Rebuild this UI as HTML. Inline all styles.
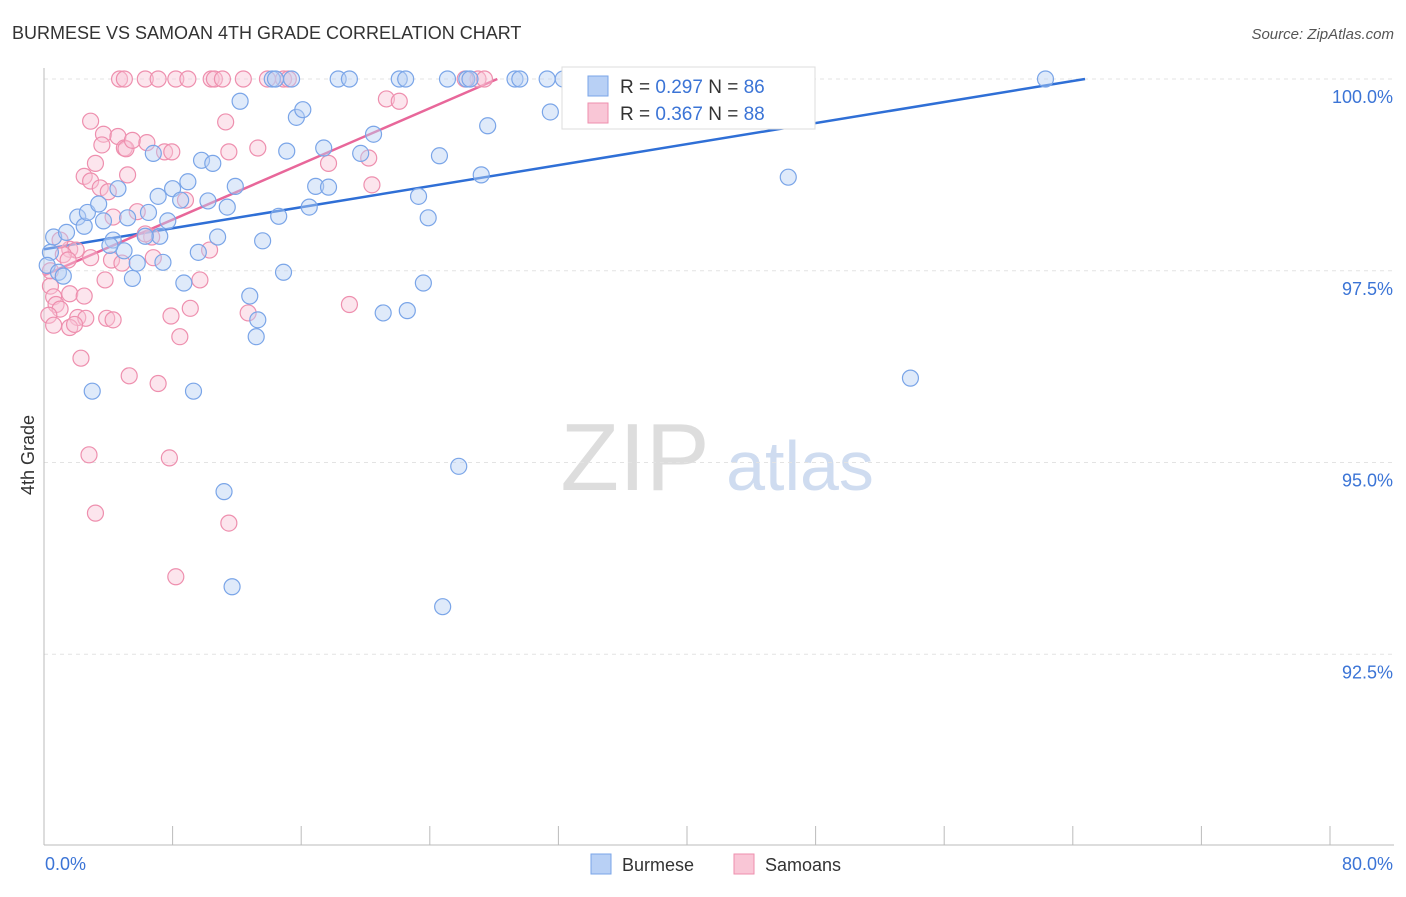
<!DOCTYPE html>
<html><head><meta charset="utf-8"><style>
body{margin:0;background:#fff;font-family:"Liberation Sans",sans-serif}
svg text{font-family:"Liberation Sans",sans-serif}
</style></head><body>
<svg id="chart" width="1406" height="892">
<text x="12" y="39" font-size="18" fill="#333">BURMESE VS SAMOAN 4TH GRADE CORRELATION CHART</text>
<text x="1394" y="39" font-size="15" fill="#555" font-style="italic" text-anchor="end">Source: ZipAtlas.com</text>
<g>
<text x="635" y="490" font-size="96" fill="#ddd" text-anchor="middle" font-family="Liberation Serif">ZIP</text>
<text x="800" y="490" font-size="70" fill="#cfdcf0" text-anchor="middle">atlas</text></g>
<g id="grid"></g><g id="axes"></g><g id="lines"></g><g id="pts"></g>
<text transform="translate(34,455) rotate(-90)" font-size="18" fill="#333" text-anchor="middle">4th Grade</text>
<g>
<rect x="562" y="67" width="253" height="62" fill="#fff" stroke="#ddd"/>
<rect x="588" y="76" width="20" height="20" fill="#b8d0f5" stroke="#7aa5e8"/>
<text x="620" y="93" font-size="19" fill="#333">R = <tspan fill="#3b74d6">0.297</tspan>   N = <tspan fill="#3b74d6">86</tspan></text>
<rect x="588" y="103" width="20" height="20" fill="#f9c6d6" stroke="#ee8fae"/>
<text x="620" y="120" font-size="19" fill="#333">R = <tspan fill="#3b74d6">0.367</tspan>   N = <tspan fill="#3b74d6">88</tspan></text>
</g>
<g>
<rect x="591" y="854" width="20" height="20" fill="#b8d0f5" stroke="#7aa5e8"/>
<text x="622" y="871" font-size="18" fill="#333">Burmese</text>
<rect x="734" y="854" width="20" height="20" fill="#f9c6d6" stroke="#ee8fae"/>
<text x="765" y="871" font-size="18" fill="#333">Samoans</text>
</g>
</svg>
<script>
const yTicks=[100,97.5,95,92.5];
const yTickLabels=["100.0%","97.5%","95.0%","92.5%"];
const xTicks=[0,8,16,24,32,40,48,56,64,72,80];
const blueX=[0.6,0.4,0.2,0.9,1.2,1.4,2.1,2.5,2.7,3.4,3.7,4.3,4.6,4.98,5.2,5.5,5.8,6.5,6.8,7.1,7.4,7.7,8.0,8.5,8.7,8.95,9.6,9.8,10.2,10.5,10.8,11.4,11.9,12.2,12.8,13.3,13.2,13.6,14.6,14.9,15.1,15.7,16.1,16.5,16.9,17.4,17.7,18.3,19.0,19.7,20.5,21.1,22.1,22.5,22.6,23.3,23.6,23.9,24.6,25.1,26.3,26.5,27.2,27.6,29.3,29.6,31.3,31.5,32.3,37.6,46.3,53.9,62.3,3.0,9.3,11.2,11.7,24.8,25.8,14.2,15.4,14.4,7.2,6.3,4.1];
const blueY=[97.94,97.74,97.57,97.48,97.43,98.0,98.2,98.08,98.26,98.37,98.15,97.9,98.57,97.76,98.19,97.4,97.6,98.26,99.03,98.47,97.61,98.15,98.57,98.42,97.34,98.66,97.74,98.94,98.41,98.9,97.94,98.33,98.6,99.71,97.17,96.86,96.64,97.89,98.21,97.48,99.06,99.5,99.6,98.33,98.6,99.1,98.59,100,100,99.03,99.28,96.95,100,100,96.98,98.47,97.34,98.19,98.999,100,100,100,98.75,99.39,100,100,100,99.57,100,100,98.72,96.1,100,95.93,95.93,94.62,93.38,93.12,94.95,100,100,100,97.95,97.95,97.83];
const pinkX=[4.7,5.0,6.3,7.1,8.2,8.95,10.4,10.6,11.1,12.4,13.9,14.9,15.2,27.0,27.4,26.2,21.3,22.1,2.9,3.7,3.6,4.6,5.0,5.1,5.5,6.4,7.5,7.95,11.3,11.5,13.3,3.2,2.5,2.9,3.5,4.0,5.2,4.3,5.8,6.7,6.3,1.6,2.0,1.2,2.9,4.2,4.85,6.8,8.8,10.3,9.7,0.4,0.6,0.75,1.0,0.3,0.6,1.6,2.5,2.1,2.6,1.6,1.9,3.9,4.3,7.9,9.1,8.45,12.7,17.7,20.2,20.4,19.0,2.3,5.3,7.1,2.8,7.8,3.2,11.5,8.2,0.4,1.0,1.5,3.8];
const pinkY=[100,100,100,100,100,100,100,100,100,100,100,100,100,100,100,100,99.74,99.71,99.45,99.28,99.14,99.25,99.1,99.09,99.2,99.17,99.05,99.05,99.44,99.05,99.1,98.9,98.73,98.67,98.58,98.53,98.75,98.2,98.27,97.94,97.98,97.78,97.77,97.71,97.67,97.64,97.6,97.67,98.42,97.77,97.38,97.3,97.16,97.06,97.0,96.92,96.79,97.2,97.17,96.89,96.88,96.76,96.8,96.88,96.86,96.91,97.01,96.64,96.95,98.9,98.97,98.62,97.06,96.36,96.13,96.03,95.1,95.06,94.34,94.21,93.51,97.5,97.9,97.64,97.38];
const blueTrend=[0,97.78,64.76,100];
const pinkTrend=[0,97.44,28.2,100];
const NS="http://www.w3.org/2000/svg";
const X=v=>44+v*16.075, Y=v=>79+(100-v)*76.7;
function mk(t,a,p){const e=document.createElementNS(NS,t);for(const k in a)e.setAttribute(k,a[k]);p.appendChild(e);return e;}
const grid=document.getElementById('grid'),axes=document.getElementById('axes');
yTicks.forEach((v,i)=>{
 const l=mk('line',{x1:44,x2:1394,y1:Y(v),y2:Y(v),stroke:'#e3e3e3','stroke-dasharray':'4,4'},grid);
 
 
 const t=mk('text',{x:1393,y:Y(v)+24,'font-size':18,fill:'#3b74d6','text-anchor':'end'},axes);
 t.textContent=yTickLabels[i];
 
 
});
const ya=mk('line',{x1:44,x2:44,y1:68,y2:845,stroke:'#bbb'},axes);


const xa=mk('line',{x1:44,x2:1394,y1:845,y2:845,stroke:'#bbb'},axes);


xTicks.forEach(v=>{const t=mk('line',{x1:X(v),x2:X(v),y1:826,y2:845,stroke:'#bbb'},axes);
 
 });
const x0=mk('text',{x:45,y:870,'font-size':18,fill:'#3b74d6'},axes);x0.textContent='0.0%';


const x1=mk('text',{x:1393,y:870,'font-size':18,fill:'#3b74d6','text-anchor':'end'},axes);x1.textContent='80.0%';


const pts=document.getElementById('pts');
function series(xs,ys,fill,stroke,name){xs.forEach((v,i)=>{const c=mk('circle',{cx:X(v),cy:Y(ys[i]),r:8,fill:fill,'fill-opacity':0.45,stroke:stroke,'stroke-width':1.2},pts);
 
 });}
series(pinkX,pinkY,'#f9c6d6','#ee8fae','samoan-point');
series(blueX,blueY,'#b8d0f5','#7aa5e8','burmese-point');
const lines=document.getElementById('lines');
const bl=mk('line',{x1:X(blueTrend[0]),y1:Y(blueTrend[1]),x2:X(blueTrend[2]),y2:Y(blueTrend[3]),stroke:'#2f6fd6','stroke-width':2.5},lines);


const pl=mk('line',{x1:X(pinkTrend[0]),y1:Y(pinkTrend[1]),x2:X(pinkTrend[2]),y2:Y(pinkTrend[3]),stroke:'#e8679a','stroke-width':2.5},lines);


</script>
</body></html>
